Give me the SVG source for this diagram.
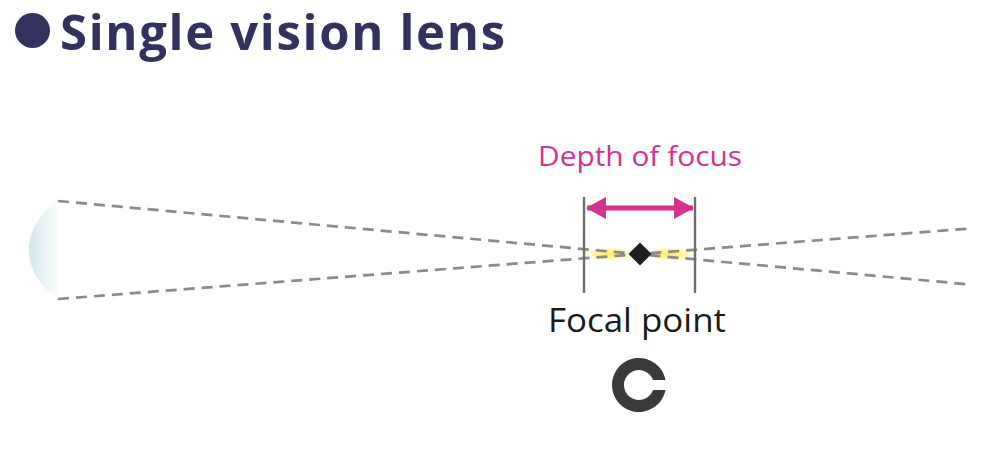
<svg xmlns="http://www.w3.org/2000/svg" width="1000" height="449" viewBox="0 0 1000 449">
<defs>
<style>
.ray{fill:none;stroke:#8a8a8a;stroke-width:2.7;stroke-dasharray:11 7}
.vline{stroke:#6e6e6e;stroke-width:2.4}
.lbl{font-family:"Open Sans","Noto Sans","DejaVu Sans",sans-serif}
</style>
<linearGradient id="lensG" x1="0" y1="0" x2="1" y2="0">
<stop offset="0" stop-color="#d3e5ec"/>
<stop offset="0.5" stop-color="#eaf3f6"/>
<stop offset="1" stop-color="#f9fcfd"/>
</linearGradient>
<radialGradient id="glow" cx="0.5" cy="0.5" r="0.5">
<stop offset="0" stop-color="#fff06a"/>
<stop offset="0.6" stop-color="#fff394" stop-opacity="0.85"/>
<stop offset="1" stop-color="#fff8c0" stop-opacity="0"/>
</radialGradient>
<marker id="ah" viewBox="0 0 20 22" refX="19" refY="11" markerWidth="20" markerHeight="22" markerUnits="userSpaceOnUse" orient="auto-start-reverse">
<path d="M0,0 L20,11 L0,22 Z" fill="#d3338f"/>
</marker>
</defs>
<rect width="1000" height="449" fill="#ffffff"/>
<g id="title">
<circle cx="32.5" cy="30.5" r="17.5" fill="#33325f"/>
<text class="lbl" x="60" y="50" font-size="49" font-weight="bold" fill="#33325f" textLength="445" lengthAdjust="spacing">Single vision lens</text>
</g>
<g id="lens">
<path d="M58,201 C38,214 29,232 29,250 C29,268 38,286 58,298 Z" fill="url(#lensG)"/>
</g>
<g id="glows">
<ellipse cx="610" cy="254" rx="26" ry="7.5" fill="url(#glow)"/>
<ellipse cx="670" cy="254" rx="26" ry="7.5" fill="url(#glow)"/>
</g>
<g id="connectors">
<line class="ray" x1="58" y1="201" x2="970" y2="284.5"/>
<line class="ray" x1="58" y1="299" x2="970" y2="228.5"/>
<line class="vline" x1="584" y1="197" x2="584" y2="293"/>
<line class="vline" x1="695" y1="197" x2="695" y2="293"/>
<line x1="587" y1="208" x2="693" y2="208" stroke="#d3338f" stroke-width="5" marker-start="url(#ah)" marker-end="url(#ah)"/>
</g>
<g id="depth-label">
<text class="lbl" x="640" y="166" font-size="27" fill="#d3338f" text-anchor="middle" textLength="204" lengthAdjust="spacingAndGlyphs">Depth of focus</text>
</g>
<g id="focal-point">
<path d="M640,242.5 L651.5,254 L640,265.5 L628.5,254 Z" fill="#1e1e1e"/>
<text class="lbl" x="637" y="332" font-size="33" fill="#1a1a1a" text-anchor="middle" textLength="178" lengthAdjust="spacingAndGlyphs">Focal point</text>
</g>
<g id="landolt-c">
<path d="M665.5,380 A27 27 0 1 0 665.5,390 L653.1,390 A15 15 0 1 1 653.1,380 Z" fill="#3a3a3a"/>
</g>
</svg>
